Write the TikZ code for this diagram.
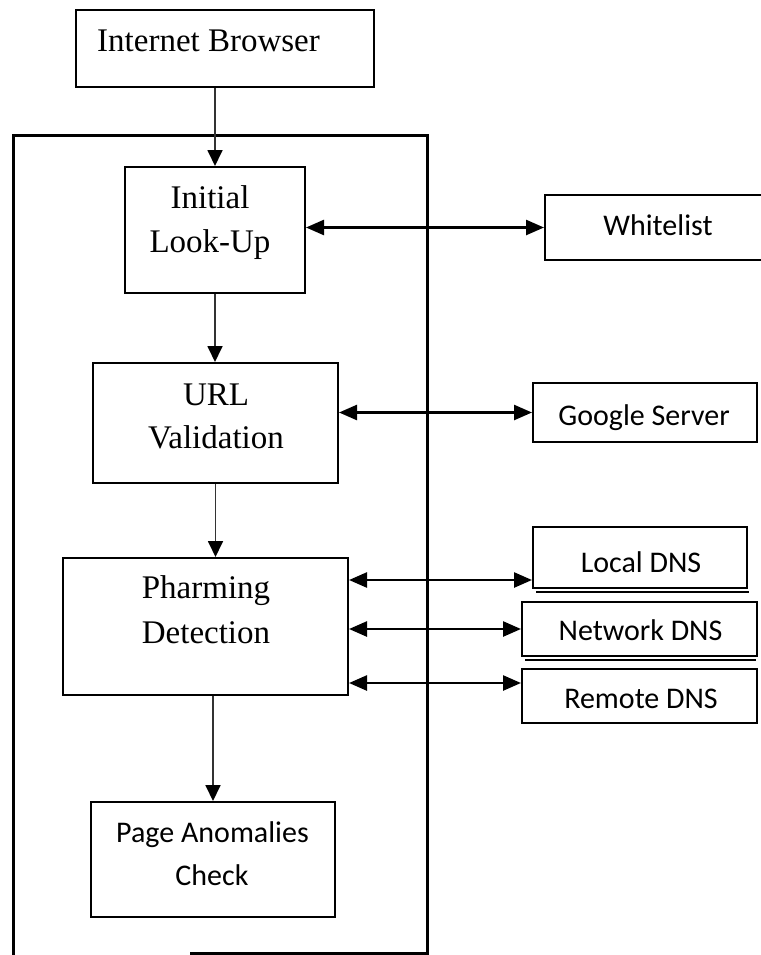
\documentclass[tikz,border=0pt]{standalone}
\usepackage{fontspec}
\setmainfont{Liberation Serif}
\newfontfamily\calfont{Carlito}
\usetikzlibrary{arrows.meta}
\begin{document}
\begin{tikzpicture}[x=1pt,y=-1pt,
  box/.style={draw=black, line width=2pt, fill=white, inner sep=0pt},
  serif/.style={inner sep=0pt, anchor=base, font=\fontsize{33}{40}\selectfont},
  sans/.style={inner sep=0pt, anchor=base, font=\calfont\fontsize{30}{36}\selectfont},
  flow/.style={draw=black!80, line width=1.8pt, -{Triangle[length=16pt,width=15pt,color=black]}},
  link/.style={draw=black, line width=2.5pt, {Triangle[length=18pt,width=15pt]}-{Triangle[length=18pt,width=15pt]}},
  shadowline/.style={draw=black, line width=1.2pt}
]
\useasboundingbox (0,0) rectangle (760,955);
\fill[white] (0,0) rectangle (760,955);

% container
\draw[line width=3pt] (190,953) -- (427,953) -- (427,135) -- (13,135) -- (13,958);

% boxes
\node[box, minimum width=298pt, minimum height=77pt] (ib) at (225,48.5) {};
\node[box, minimum width=180pt, minimum height=126pt] (ilu) at (215,230) {};
\node[box, minimum width=245pt, minimum height=120pt] (urlv) at (215.5,423) {};
\node[box, minimum width=285pt, minimum height=137pt] (phd) at (205.5,626.5) {};
\node[box, minimum width=244pt, minimum height=115pt] (pac) at (213,859.5) {};
\node[box, minimum width=230pt, minimum height=65pt] (wl) at (660,227.5) {};
\node[box, minimum width=224pt, minimum height=59pt] (gs) at (645,412.5) {};
\node[box, minimum width=214pt, minimum height=61pt] (ld) at (640,557.5) {};
\node[box, minimum width=235pt, minimum height=54pt] (nd) at (639.5,629) {};
\node[box, minimum width=235pt, minimum height=54pt] (rd) at (639.5,696) {};

\draw[shadowline] ([xshift=4pt,yshift=-3pt]ld.south west) -- ([xshift=1pt,yshift=-3pt]ld.south east);
\draw[shadowline] ([xshift=4pt,yshift=-3pt]nd.south west) -- ([xshift=-2pt,yshift=-3pt]nd.south east);

% texts
\node[serif, anchor=base west] (ibt) at (97,52) {Internet Browser};
\node[serif] (ilu1) at (210,208) {Initial};
\node[serif] (ilu2) at (210,252) {Look-Up};
\node[serif] (url1) at (216,405) {URL};
\node[serif] (url2) at (216,448) {Validation};
\node[serif] (ph1) at (206,598) {Pharming};
\node[serif] (ph2) at (206,643) {Detection};
\node[sans] (pa1) at (212.5,842) {Page Anomalies};
\node[sans] (pa2) at (212,885) {Check};
\node[sans] (wlt) at (658,235) {Whitelist};
\node[sans] (gst) at (644,425) {Google Server};
\node[sans] (ldt) at (641,572) {Local DNS};
\node[sans] (ndt) at (640.5,640) {Network DNS};
\node[sans] (rdt) at (641,708) {Remote DNS};

% flow arrows
\draw[flow] (ilu.north |- ib.south) -- (ilu.north);
\draw[flow] (ilu.south) -- (ilu.south |- urlv.north);
\draw[flow] (urlv.south) -- (urlv.south |- phd.north);
\draw[flow] (pac.north |- phd.south) -- (pac.north);

% side links
\coordinate (ldin) at ([yshift=-22.5pt]ld.west);
\coordinate (rdin) at ([yshift=13pt]rd.west);
\draw[link] (ilu.east |- wl.west) -- (wl.west);
\draw[link] (urlv.east |- gs.west) -- (gs.west);
\draw[link] (phd.east |- ldin) -- (ldin);
\draw[link] (phd.east |- nd.west) -- (nd.west);
\draw[link] (phd.east |- rdin) -- (rdin);
\end{tikzpicture}
\end{document}
